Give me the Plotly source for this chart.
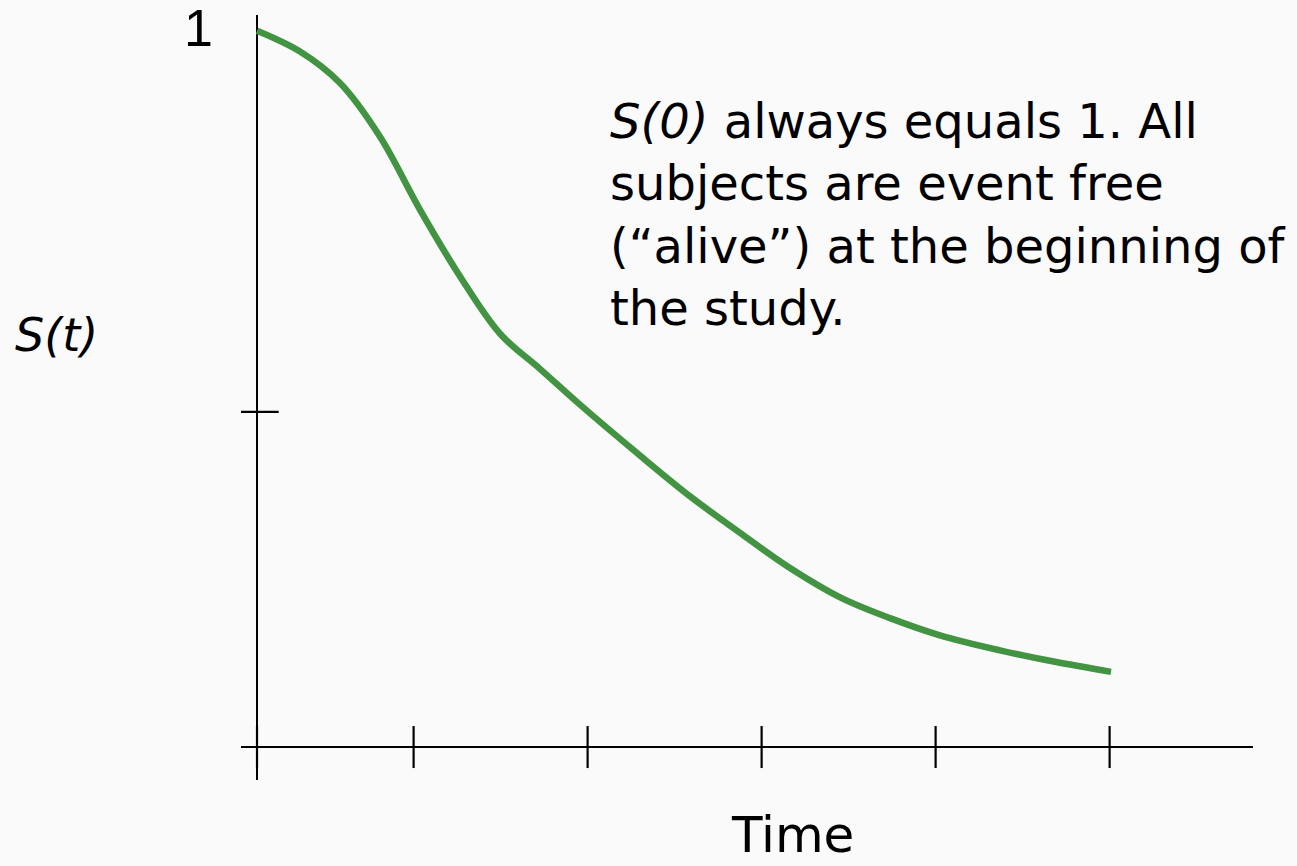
import plotly.graph_objects as go

# Survival curve S(t)
time = [0.0, 0.247, 0.477, 0.707, 0.937, 1.167, 1.397, 1.626, 1.856, 2.201, 2.489,
        2.776, 3.063, 3.351, 3.638, 3.925, 4.270, 4.586, 4.908]
surv = [1.0, 0.971, 0.927, 0.852, 0.750, 0.657, 0.577, 0.528, 0.478, 0.407, 0.350,
        0.299, 0.250, 0.209, 0.180, 0.156, 0.135, 0.119, 0.105]

x_ticks = [0.0, 0.9, 1.9, 2.9, 3.9, 4.9]
y_ticks = [0.468]
y_label_vals = [1]
y_label_text = ["1"]

FONT = "DejaVu Sans, sans-serif"
GREEN = "#439442"

fig = go.Figure()

fig.add_trace(go.Scatter(
    x=time, y=surv, mode="lines",
    line=dict(color=GREEN, width=6.5, shape="spline", smoothing=1.0),
    hoverinfo="skip", showlegend=False,
))

# tick marks crossing the axes
fig.add_trace(go.Scatter(
    x=x_ticks, y=[0] * len(x_ticks), mode="markers",
    marker=dict(symbol="line-ns", size=30, line=dict(color="black", width=2.2)),
    hoverinfo="skip", showlegend=False,
))
fig.add_trace(go.Scatter(
    x=[0] * len(y_ticks), y=y_ticks, mode="markers",
    marker=dict(symbol="line-ew", size=31, line=dict(color="black", width=2.2)),
    hoverinfo="skip", showlegend=False,
))

annotations = [
    dict(xref="x", yref="y", x=0, y=y_label_vals[0], xanchor="right", yanchor="middle",
         xshift=-42, yshift=3, showarrow=False, text=y_label_text[0],
         font=dict(family="Liberation Sans, Arial", size=52, color="black")),
    dict(xref="paper", yref="paper", x=0.3626, y=0.901, xanchor="left", yanchor="top",
         align="left", showarrow=False,
         text="<i>S(0)</i> always equals 1. All<br>subjects are event free<br>(\u201calive\u201d) at the beginning of<br>the study.",
         font=dict(family=FONT, size=48, color="black")),
    dict(xref="paper", yref="paper", x=-0.225, y=0.582, xanchor="left", yanchor="middle",
         showarrow=False, text="<i>S(t)</i>",
         font=dict(family=FONT, size=46, color="black")),
    dict(xref="paper", yref="paper", x=0.545, y=-0.112, xanchor="center", yanchor="bottom",
         showarrow=False, text="Time",
         font=dict(family=FONT, size=50, color="black")),
]

fig.update_layout(
    width=1297, height=866,
    margin=dict(l=241, r=44, t=15, b=86),
    paper_bgcolor="#fafafa", plot_bgcolor="#fafafa",
    xaxis=dict(range=[-0.092, 5.724], showgrid=False, showticklabels=False, ticks="",
               zeroline=True, zerolinecolor="black", zerolinewidth=2.2, showline=False),
    yaxis=dict(range=[-0.046, 1.022], showgrid=False, ticks="", showticklabels=False,
               zeroline=True, zerolinecolor="black", zerolinewidth=2.2, showline=False),
    annotations=annotations,
)

fig.write_html("out.html", config={"displayModeBar": False},
               post_script="document.body.style.margin='0';document.body.style.background='#fafafa';")
